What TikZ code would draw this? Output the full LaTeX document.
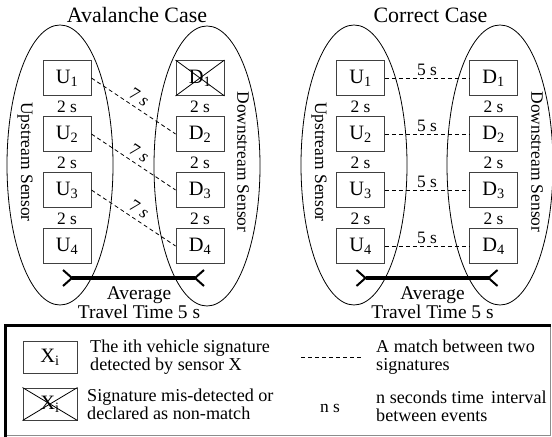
\documentclass[tikz,border=0pt]{standalone}
\usepackage{fontspec}
\setmainfont{Liberation Serif}
\usetikzlibrary{arrows.meta,shapes.geometric}

\begin{document}
\begin{tikzpicture}[x=1bp,y=-1bp,
  sig/.style={draw=black!75, line width=0.9bp, minimum width=48bp, minimum height=35bp,
    inner sep=0pt, font=\fontsize{20.5}{21}\selectfont},
  legsig/.style={sig, minimum width=54bp, minimum height=32bp},
  sensor/.style={draw, ellipse, line width=0.8bp, minimum width=106bp, minimum height=280bp, inner sep=0pt},
  sensorlabel/.style={rotate=-90, font=\fontsize{17.5}{17}\selectfont},
  title/.style={font=\fontsize{22}{22}\selectfont},
  gap/.style={font=\fontsize{17.5}{17}\selectfont, inner sep=1pt},
  match/.style={dash pattern=on 4bp off 3bp, line width=0.8bp},
  travel/.style={line width=3.6bp,
    {Straight Barb[reversed, length=9bp, width=16bp, line width=2bp]}-{Straight Barb[reversed, length=9bp, width=16bp, line width=2bp]}},
  travellabel/.style={align=center, font=\fontsize{19.5}{15}\selectfont},
  legtext/.style={anchor=west, align=left, font=\fontsize{18.2}{18}\selectfont, inner sep=0pt},
]
\useasboundingbox (0,0) rectangle (552,437);

% ---------- left panel: avalanche case ----------
\node[title] (tA) at (137,15) {Avalanche Case};
\node[sensor] (upA) at (60,165) {};
\node[sensor] (dnA) at (207,166) {};
\node[sensorlabel] (upAl) at (25,162) {Upstream Sensor};
\node[sensorlabel] (dnAl) at (243,162) {Downstream Sensor};

\foreach \i/\y in {1/78,2/134,3/190,4/246}{
  \node[sig] (AU\i) at (67,\y) {U\textsubscript{\i}};
  \node[sig] (AD\i) at (200,\y) {D\textsubscript{\i}};
}
\draw[line width=0.8bp] (AD1.north west) -- (AD1.south east) (AD1.north east) -- (AD1.south west);

\foreach \i/\y in {1/107,2/163,3/219}{
  \node[gap] (AUg\i) at (67,\y) {2 s};
  \node[gap] (ADg\i) at (200,\y) {2 s};
}
\foreach \a/\b in {1/2,2/3,3/4}{
  \draw[match] (AU\a.east) -- node[gap, midway, above=3bp, sloped] {7 \textit{s}} (AD\b.west);
}

\coordinate (tA1) at (62,278);
\coordinate (tA2) at (205,278);
\draw[travel] (tA1) -- (tA2);
\node[travellabel] (avA) at (139,303) {Average\\Travel Time 5 s};

% ---------- right panel: correct case ----------
\node[title] (tC) at (430.5,15) {Correct Case};
\node[sensor] (upC) at (354,165) {};
\node[sensor] (dnC) at (500,165) {};
\node[sensorlabel] (upCl) at (319,162) {Upstream Sensor};
\node[sensorlabel] (dnCl) at (537,162) {Downstream Sensor};

\foreach \i/\y in {1/78,2/134,3/190,4/246}{
  \node[sig] (CU\i) at (360.5,\y) {U\textsubscript{\i}};
  \node[sig] (CD\i) at (493.5,\y) {D\textsubscript{\i}};
  \draw[match] (CU\i.east) -- node[gap, midway, above=1bp] {5 s} (CD\i.west);
}
\foreach \i/\y in {1/107,2/163,3/219}{
  \node[gap] (CUg\i) at (360.5,\y) {2 s};
  \node[gap] (CDg\i) at (493.5,\y) {2 s};
}

\coordinate (tC1) at (355.5,278);
\coordinate (tC2) at (498.5,278);
\draw[travel] (tC1) -- (tC2);
\node[travellabel] (avC) at (432.5,303) {Average\\Travel Time 5 s};

% ---------- legend ----------
\draw[black!45, line width=0.8bp] (5,325) -- (550.5,325) -- (550.5,435.5) -- (5,435.5);
\draw[line width=3bp] (5,437) -- (5,325) -- (551,325);

\node[legsig] (lx) at (50,357) {X\textsubscript{i}};
\node[legtext] (lxt) at (90,357) {The ith vehicle signature\\detected by sensor X};

\node[legsig] (lc) at (50,404) {X\textsubscript{i}};
\draw[line width=0.8bp] (lc.north west) -- (lc.south east) (lc.north east) -- (lc.south west);
\node[legtext] (lct) at (87,404.5) {Signature mis-detected or\\declared as non-match};

\coordinate (lm1) at (301,357);
\coordinate (lm2) at (362,357);
\draw[match] (lm1) -- (lm2);
\node[legtext] (lmt) at (376,357.5) {A match between two\\signatures};

\node[gap] (lns) at (330,408) {n s};
\node[legtext] (lnst) at (376,406) {n seconds time\hspace{0.4em}interval\\between events};
\end{tikzpicture}
\end{document}
